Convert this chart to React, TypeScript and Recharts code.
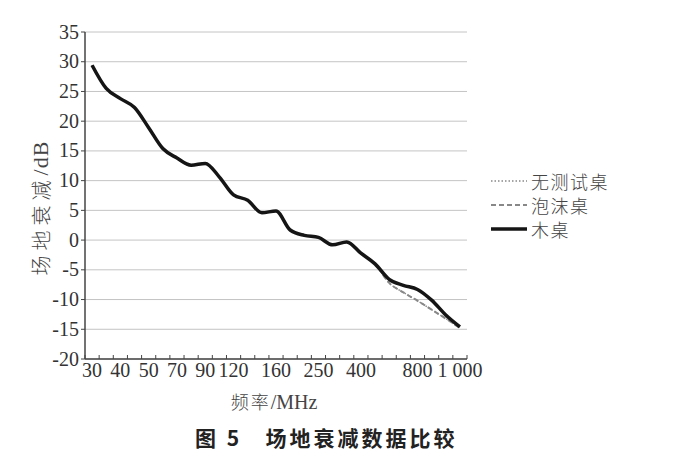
import { LineChart, Line, XAxis, YAxis, CartesianGrid } from 'recharts';

// 频率点 (MHz)
const frequencies = [
  '30', '35', '40', '45', '50', '60', '70', '80', '90', '100', '120', '140', '150', '160',
  '180', '200', '250', '300', '350', '400', '500', '600', '700', '800', '900', '950', '1000',
];

// 轴上显示的刻度文字
const shownLabels: Record<string, string> = {
  '30': '30', '40': '40', '50': '50', '70': '70', '90': '90', '120': '120',
  '160': '160', '250': '250', '400': '400', '800': '800', '1000': '1 000',
};

const woodTable = [
  29.4, 25.5, 23.8, 22.3, 18.9, 15.4, 13.8, 12.6, 12.9, 10.6, 7.6, 6.7, 4.6, 4.9,
  1.7, 0.8, 0.45, -0.8, -0.3, -2.2, -4.0, -6.6, -7.6, -8.3, -10.1, -12.6, -14.6,
];
const foamTable = [
  29.4, 25.5, 23.8, 22.3, 18.9, 15.4, 13.8, 12.6, 12.9, 10.6, 7.6, 6.7, 4.6, 4.9,
  1.7, 0.8, 0.45, -0.8, -0.3, -2.2, -4.0, -7.2, -8.8, -10.2, -11.7, -13.2, -14.8,
];
const noTable = [
  29.4, 25.5, 23.8, 22.3, 18.9, 15.4, 13.8, 12.6, 12.9, 10.6, 7.6, 6.7, 4.6, 4.9,
  1.7, 0.8, 0.45, -0.8, -0.3, -2.2, -4.0, -7.2, -8.8, -10.2, -11.7, -13.2, -14.8,
];

const yTicks = [-20, -15, -10, -5, 0, 5, 10, 15, 20, 25, 30, 35];

const seriesNames = ['无测试桌', '泡沫桌', '木桌'];

const data = frequencies.map((f, i) => ({
  f,
  none: noTable[i],
  foam: foamTable[i],
  wood: woodTable[i],
}));

const SERIF = "'Liberation Serif', 'DejaVu Serif', 'Times New Roman', serif";
const CJK = "'Noto Sans CJK SC', sans-serif";
const TEXT = '#333';
const AXIS = '#444';

const legendStyles = [
  { stroke: '#888', width: 1.5, dash: '1.5 2' },
  { stroke: '#888', width: 2, dash: '5 3' },
  { stroke: '#151515', width: 3.5, dash: undefined },
];

function FreqTick(props: any) {
  const { x, y, payload, index, visibleTicksCount } = props;
  const half = payload && payload.offset ? payload.offset : 7.07;
  const label = shownLabels[payload.value];
  const last = visibleTicksCount ? index === visibleTicksCount - 1 : payload.value === '1000';
  return (
    <g>
      <line x1={x - half} x2={x - half} y1={y - 4} y2={y} stroke={AXIS} strokeWidth={1} />
      {last && <line x1={x + half} x2={x + half} y1={y - 4} y2={y} stroke={AXIS} strokeWidth={1} />}
      {label && (
        <text x={x} y={y + 18} textAnchor="middle" style={{ fontFamily: SERIF, fontSize: 20 }} fill={TEXT}>
          {label}
        </text>
      )}
    </g>
  );
}

function YTick(props: any) {
  const { x, y, payload } = props;
  return (
    <text x={x} y={y} dy={6.5} textAnchor="end" style={{ fontFamily: SERIF, fontSize: 20 }} fill={TEXT}>
      {payload.value}
    </text>
  );
}

function LegendBox() {
  return (
    <div style={{ position: 'absolute', left: 491, top: 169, color: '#444' }}>
      {seriesNames.map((name, i) => (
        <div key={name} style={{ display: 'flex', alignItems: 'center', height: 24 }}>
          <svg width={36} height={10} style={{ marginRight: 4 }}>
            <line
              x1={0}
              x2={36}
              y1={5}
              y2={5}
              stroke={legendStyles[i].stroke}
              strokeWidth={legendStyles[i].width}
              strokeDasharray={legendStyles[i].dash}
            />
          </svg>
          <span
            style={{
              letterSpacing: 1.5,
              fontFamily: CJK,
              fontWeight: 300,
              fontSize: 18,
              lineHeight: '20px',
            }}
          >
            {name}
          </span>
        </div>
      ))}
    </div>
  );
}

export default function App() {
  return (
    <div style={{ position: 'absolute', left: 0, top: 0, width: 683, height: 472, background: '#fff' }}>
      <LineChart
        width={683}
        height={472}
        data={data}
        margin={{ top: 32, right: 216, bottom: 83, left: 25 }}
      >
        <CartesianGrid vertical={false} stroke="#c4c4c4" strokeWidth={1} />
        <XAxis
          dataKey="f"
          scale="band"
          interval={0}
          height={30}
          tickSize={0}
          tickMargin={0}
          tickLine={false}
          axisLine={{ stroke: AXIS, strokeWidth: 1.5 }}
          tick={<FreqTick />}
          label={{
            content: () => (
              <text x={274} y={409} textAnchor="middle" fill="#444" style={{ fontSize: 18 }}>
                <tspan style={{ fontFamily: CJK, fontWeight: 300, letterSpacing: 2 }}>频率</tspan>
                <tspan style={{ fontFamily: SERIF, fontSize: 20 }}>/MHz</tspan>
              </text>
            ),
          }}
        />
        <YAxis
          width={60}
          domain={[-20, 35]}
          ticks={yTicks}
          interval={0}
          tickSize={4}
          tickMargin={2}
          axisLine={{ stroke: AXIS, strokeWidth: 1.5 }}
          tickLine={{ stroke: AXIS }}
          tick={<YTick />}
          label={{
            content: () => (
              <text
                x={40}
                y={208}
                transform="rotate(-90 40 208)"
                textAnchor="middle"
                dominantBaseline="central"
                fill="#444"
                style={{ fontSize: 20 }}
              >
                <tspan style={{ fontFamily: CJK, fontWeight: 300, letterSpacing: 5 }}>场地衰减</tspan>
                <tspan style={{ fontFamily: SERIF, fontSize: 22, letterSpacing: 1 }}>/dB</tspan>
              </text>
            ),
          }}
        />
        <Line
          dataKey="none"
          name={seriesNames[0]}
          type="monotone"
          stroke="#888"
          strokeWidth={1.5}
          strokeDasharray="1.5 2"
          dot={false}
          isAnimationActive={false}
        />
        <Line
          dataKey="foam"
          name={seriesNames[1]}
          type="monotone"
          stroke="#888"
          strokeWidth={2}
          strokeDasharray="5 3"
          dot={false}
          isAnimationActive={false}
        />
        <Line
          dataKey="wood"
          name={seriesNames[2]}
          type="monotone"
          stroke="#151515"
          strokeWidth={3.5}
          dot={false}
          isAnimationActive={false}
        />
      </LineChart>
      <LegendBox />
      <div
        style={{
          position: 'absolute',
          left: 195,
          top: 422,
          fontFamily: CJK,
          fontWeight: 700,
          fontSize: 21,
          letterSpacing: 3,
          color: '#222',
          whiteSpace: 'pre',
        }}
      >
        图 5   场地衰减数据比较
      </div>
    </div>
  );
}
